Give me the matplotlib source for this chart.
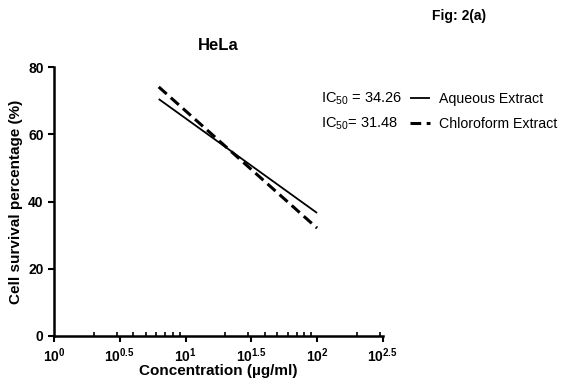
import numpy as np
import matplotlib
matplotlib.use("Agg")
import matplotlib.pyplot as plt
from matplotlib.ticker import FixedLocator, LogLocator, NullFormatter

plt.rcParams['font.family'] = ['Liberation Sans', 'DejaVu Sans']
plt.rcParams['mathtext.fontset'] = 'custom'
plt.rcParams['mathtext.rm'] = 'Liberation Sans'
plt.rcParams['mathtext.bf'] = 'Liberation Sans:bold'

conc = [6.25, 100]
aqueous = [70.5, 36.6]
chloroform = [74.1, 32.1]
series_names = ['Aqueous Extract', 'Chloroform Extract']
ic50_labels = ['IC$_{50}$ = 34.26', 'IC$_{50}$= 31.48']
xtick_exp = ['0', '0.5', '1', '1.5', '2', '2.5']
yticks = [0, 20, 40, 60, 80]

fig = plt.figure(figsize=(5.63, 3.79), dpi=100)
ax = fig.add_axes([0.096, 0.1135, 0.584, 0.7095])

l1, = ax.plot(conc, aqueous, color='black', lw=1.3, solid_capstyle='butt')
l2, = ax.plot(conc, chloroform, color='black', lw=2.2, dashes=(3.5, 1.8))

ax.set_xscale('log')
ax.set_xlim(1, 10 ** 2.5)
ax.set_ylim(0, 80)
ax.xaxis.set_major_locator(FixedLocator([10 ** float(e) for e in xtick_exp]))
ax.set_xticklabels([r'$\mathbf{10^{%s}}$' % e for e in xtick_exp])
ax.xaxis.set_minor_locator(LogLocator(base=10, subs=np.arange(2, 10)))
ax.xaxis.set_minor_formatter(NullFormatter())
ax.set_yticks(yticks)

for s in ['top', 'right']:
    ax.spines[s].set_visible(False)
for s in ['left', 'bottom']:
    ax.spines[s].set_linewidth(1.8)
ax.tick_params(axis='both', which='major', direction='out', length=4, width=1.5,
               labelsize=10)
ax.tick_params(axis='x', which='minor', direction='in', length=3, width=1.2)
for lab in ax.get_xticklabels() + ax.get_yticklabels():
    lab.set_fontweight('bold')

ax.set_xlabel('Concentration (µg/ml)', fontsize=11, fontweight='bold', labelpad=-1)
ax.set_ylabel('Cell survival percentage (%)', fontsize=11, fontweight='bold', labelpad=4)
ax.set_title('HeLa', fontsize=12, fontweight='bold', pad=12)

fig.text(0.768, 0.958, 'Fig: 2(a)', fontsize=10, fontweight='bold', va='center')
fig.text(0.571, 0.741, ic50_labels[0], fontsize=10.5, va='center')
fig.text(0.571, 0.674, ic50_labels[1], fontsize=10.5, va='center')
ax.legend([l1, l2], series_names, loc='upper left', bbox_to_anchor=(0.716, 0.776),
          bbox_transform=fig.transFigure, frameon=False, fontsize=10.2,
          handlelength=1.4, handletextpad=0.6, labelspacing=0.8, borderpad=0)

fig.savefig('out.png', dpi=100)
